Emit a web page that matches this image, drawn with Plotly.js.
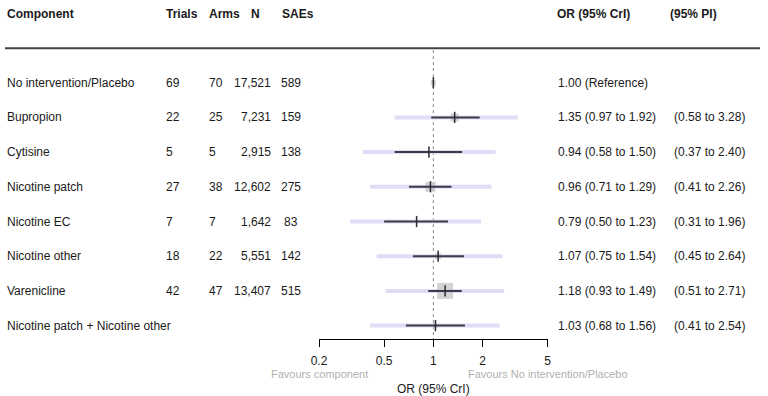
<!DOCTYPE html>
<html>
<head>
<meta charset="utf-8">
<script src="https://cdn.plot.ly/plotly-3.0.1.min.js"></script>
<style>
  body { margin: 0; background: #fff; }
  #plot { width: 768px; height: 396px; }
</style>
</head>
<body>
<div id="plot"></div>
<script>
// table data, one entry per row
const components = ["No intervention/Placebo", "Bupropion", "Cytisine", "Nicotine patch",
    "Nicotine EC", "Nicotine other", "Varenicline", "Nicotine patch + Nicotine other"];
const trials = [69, 22, 5, 27, 7, 18, 42, null];
const arms = [70, 25, 5, 38, 7, 22, 47, null];
const participants = [17521, 7231, 2915, 12602, 1642, 5551, 13407, null];
const saes = [589, 159, 138, 275, 83, 142, 515, null];

// odds ratios, credible and prediction intervals
const orEst = [1.00, 1.35, 0.94, 0.96, 0.79, 1.07, 1.18, 1.03];
const criLo = [null, 0.97, 0.58, 0.71, 0.50, 0.75, 0.93, 0.68];
const criHi = [null, 1.92, 1.50, 1.29, 1.23, 1.54, 1.49, 1.56];
const piLo = [null, 0.58, 0.37, 0.41, 0.31, 0.45, 0.51, 0.41];
const piHi = [null, 3.28, 2.40, 2.26, 1.96, 2.64, 2.71, 2.54];

const tickVals = [0.2, 0.5, 1, 2, 5];
const tickText = ["0.2", "0.5", "1", "2", "5"];

// box sizes (px)
const boxSize = [5, 8, 0, 10, 0, 6, 16, 4];

const W = 768, H = 396;
const FONT = "Liberation Sans, Arial, sans-serif";
const rows = components.map((c, i) => i);

function seg(lo, hi) {
    let X = [], Y = [];
    for (let i = 0; i < rows.length; i++) {
        if (lo[i] == null) continue;
        X.push(lo[i], hi[i], null);
        Y.push(i, i, null);
    }
    return { x: X, y: Y };
}

let pi = seg(piLo, piHi);
let cri = seg(criLo, criHi);

let traces = [
    {   // reference line at OR = 1
        x: [1, 1], y: [-0.94, 7.39],
        mode: "lines", line: { color: "#8a8a8a", width: 1, dash: "dot" },
        hoverinfo: "skip"
    },
    {
        x: pi.x, y: pi.y, mode: "lines",
        line: { color: "#dedcf6", width: 4 }, hoverinfo: "skip"
    },
    {
        x: orEst.filter((v, i) => boxSize[i] > 0),
        y: rows.filter(i => boxSize[i] > 0),
        mode: "markers",
        marker: { symbol: "square", size: boxSize.filter(s => s > 0), color: "#c2c2c2", line: { width: 0 } },
        hoverinfo: "skip"
    },
    {
        x: cri.x, y: cri.y, mode: "lines",
        line: { color: "#3a3a48", width: 2 }, hoverinfo: "skip"
    },
    {
        x: orEst, y: rows, mode: "markers",
        marker: { symbol: "line-ns-open", size: 8, color: "#2a2a35", line: { color: "#2a2a35", width: 1.5 } },
        hoverinfo: "skip"
    }
];

let ann = [];
function txt(px, y, text, opts) {
    ann.push(Object.assign({
        xref: "paper", yref: "y", x: px / W, y: y, text: text,
        showarrow: false, xanchor: "left", yanchor: "middle",
        font: { family: FONT, size: 12, color: "#1a1a1a" }
    }, opts || {}));
}

// header
const hdrY = (14 - 82.7) / 34.7;
txt(5, hdrY, "<b>Component</b>");
txt(164, hdrY, "<b>Trials</b>");
txt(207, hdrY, "<b>Arms</b>");
txt(249, hdrY, "<b>N</b>");
txt(280, hdrY, "<b>SAEs</b>");
txt(555, hdrY, "<b>OR (95% CrI)</b>");
txt(668, hdrY, "<b>(95% PI)</b>");

for (let i = 0; i < rows.length; i++) {
    txt(5, i, components[i]);
    if (trials[i] != null) txt(164, i, String(trials[i]));
    if (arms[i] != null) txt(207, i, String(arms[i]));
    if (participants[i] != null) txt(273, i, participants[i].toLocaleString("en-US"), { xanchor: "right" });
    if (saes[i] != null) txt(291, i, String(saes[i]), { xanchor: "center" });
    if (i === 0) {
        txt(556, i, orEst[i].toFixed(2) + " (Reference)");
    } else {
        txt(556, i, orEst[i].toFixed(2) + " (" + criLo[i].toFixed(2) + " to " + criHi[i].toFixed(2) + ")");
        txt(672, i, "(" + piLo[i].toFixed(2) + " to " + piHi[i].toFixed(2) + ")");
    }
}

// axis captions
ann.push({
    xref: "x", yref: "paper", x: Math.log10(tickVals[0]), y: 1 - 374 / H,
    text: "Favours component", showarrow: false, xanchor: "center", yanchor: "middle",
    font: { family: FONT, size: 11, color: "#b0b0b0" }
});
ann.push({
    xref: "x", yref: "paper", x: Math.log10(tickVals[4]), y: 1 - 374 / H,
    text: "Favours No intervention/Placebo", showarrow: false, xanchor: "center", yanchor: "middle",
    font: { family: FONT, size: 11, color: "#b0b0b0" }
});
ann.push({
    xref: "x", yref: "paper", x: 0, y: 1 - 389 / H,
    text: "OR (95% CrI)", showarrow: false, xanchor: "center", yanchor: "middle",
    font: { family: FONT, size: 12, color: "#1a1a1a" }
});

let layout = {
    width: W, height: H,
    margin: { l: 0, r: 0, t: 0, b: 0 },
    paper_bgcolor: "#fff", plot_bgcolor: "rgba(0,0,0,0)",
    showlegend: false,
    xaxis: {
        type: "log", range: [Math.log10(0.2), Math.log10(5)],
        domain: [319 / W, 547.7 / W],
        anchor: "free", position: 1 - 339 / H,
        showline: true, linecolor: "#000", linewidth: 1,
        ticks: "outside", ticklen: 7, tickcolor: "#000",
        ticklabelstandoff: 4,
        tickvals: tickVals, ticktext: tickText,
        tickfont: { family: FONT, size: 12, color: "#1a1a1a" },
        showgrid: false, zeroline: false, fixedrange: true
    },
    yaxis: {
        range: [(H - 82.7) / 34.7, -82.7 / 34.7],
        domain: [0, 1], visible: false, fixedrange: true
    },
    shapes: [{
        type: "line", xref: "paper", yref: "paper",
        x0: 5 / W, x1: 760 / W, y0: 1 - 48.3 / H, y1: 1 - 48.3 / H,
        line: { color: "#444", width: 2 }
    }],
    annotations: ann
};

Plotly.newPlot("plot", traces, layout, { displayModeBar: false, staticPlot: true });
</script>
</body>
</html>
